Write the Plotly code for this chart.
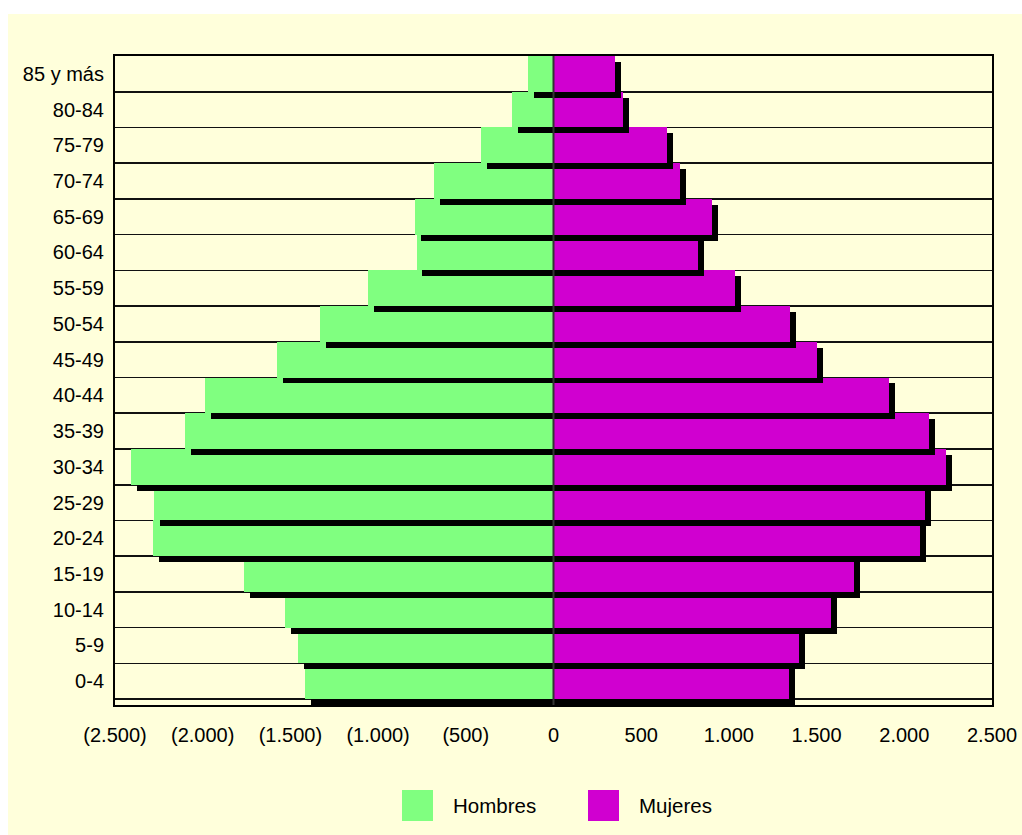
import plotly.graph_objects as go

# ---- data (bottom to top) ----
age_groups = ["0-4", "5-9", "10-14", "15-19", "20-24", "25-29", "30-34", "35-39",
              "40-44", "45-49", "50-54", "55-59", "60-64", "65-69", "70-74",
              "75-79", "80-84", "85 y más"]
hombres = [1415, 1455, 1529, 1763, 2282, 2276, 2407, 2099, 1985, 1574,
           1329, 1055, 781, 787, 679, 416, 234, 143]
mujeres = [1341, 1398, 1580, 1711, 2088, 2116, 2236, 2139, 1911, 1500,
           1346, 1033, 822, 901, 724, 645, 399, 348]
x_tickvals = [-2500, -2000, -1500, -1000, -500, 0, 500, 1000, 1500, 2000, 2500]
x_ticktext = ["(2.500)", "(2.000)", "(1.500)", "(1.000)", "(500)", "0",
              "500", "1.000", "1.500", "2.000", "2.500"]

# ---- style ----
GREEN = "#80FF80"
MAGENTA = "#D000D0"
BG = "#FFFFDB"
FONT = "Liberation Sans, Arial, sans-serif"
SH_DX = 34      # shadow horizontal offset (data units)
SH_DY = 0.166   # shadow vertical offset (category units)

fig = go.Figure()

fig.add_trace(go.Bar(
    y=age_groups, x=[-v for v in hombres], orientation="h", width=1,
    marker=dict(color=GREEN, line=dict(width=0)), name="Hombres",
    showlegend=False, hoverinfo="skip"))
fig.add_trace(go.Bar(
    y=age_groups, x=mujeres, orientation="h", width=1,
    marker=dict(color=MAGENTA, line=dict(width=0)), name="Mujeres",
    showlegend=False, hoverinfo="skip"))

# shadow: strip below each pair of bars
fig.add_trace(go.Bar(
    y=age_groups, x=[h + m for h, m in zip(hombres, mujeres)],
    base=[-h + SH_DX for h in hombres], orientation="h",
    width=SH_DY, offset=-0.5 - SH_DY, cliponaxis=False,
    marker=dict(color="black", line=dict(width=0)),
    showlegend=False, hoverinfo="skip"))
# shadow: strip right of each female bar
fig.add_trace(go.Bar(
    y=age_groups, x=[SH_DX] * len(mujeres), base=mujeres, orientation="h",
    width=1 - SH_DY, offset=-0.5, cliponaxis=False,
    marker=dict(color="black", line=dict(width=0)),
    showlegend=False, hoverinfo="skip"))

W, H = 1022, 835
L, R, T, B = 115, 30, 56, 130
pw, ph = W - L - R, H - T - B

def px(x_page):
    return (x_page - L) / pw

def py(y_page):
    return (H - B - y_page) / ph

shapes = [
    # yellow chart area background
    dict(type="rect", xref="paper", yref="paper", layer="below",
         x0=px(8), x1=px(1030), y0=py(845), y1=py(14),
         fillcolor=BG, line=dict(width=0)),
    # zero line
    dict(type="line", xref="x", yref="paper", x0=0, x1=0, y0=0, y1=1,
         line=dict(color="#333333", width=2), layer="above"),
    # legend squares
    dict(type="rect", xref="paper", yref="paper", x0=px(402), x1=px(433),
         y0=py(821), y1=py(790), fillcolor=GREEN, line=dict(width=0)),
    dict(type="rect", xref="paper", yref="paper", x0=px(588), x1=px(619),
         y0=py(821), y1=py(790), fillcolor=MAGENTA, line=dict(width=0)),
]
annotations = [
    dict(text="Hombres", xref="paper", yref="paper", x=px(451), y=py(805),
         xanchor="left", yanchor="middle", showarrow=False,
         font=dict(family=FONT, size=20.5, color="black")),
    dict(text="Mujeres", xref="paper", yref="paper", x=px(637), y=py(805),
         xanchor="left", yanchor="middle", showarrow=False,
         font=dict(family=FONT, size=20.5, color="black")),
]

fig.update_layout(
    width=W, height=H,
    margin=dict(l=L, r=R, t=T, b=B, pad=0),
    paper_bgcolor="white", plot_bgcolor=BG,
    barmode="overlay", bargap=0,
    showlegend=False,
    font=dict(family=FONT, size=20, color="black"),
    shapes=shapes, annotations=annotations,
    xaxis=dict(range=[-2500, 2500], tickvals=x_tickvals, ticktext=x_ticktext,
               showgrid=False, zeroline=False, ticks="",
               showline=True, linecolor="black", linewidth=2, mirror=True,
               ticklabelstandoff=11, tickfont=dict(size=20), automargin=False),
    yaxis=dict(type="category", categoryorder="array", categoryarray=age_groups,
               tickson="boundaries", showgrid=True, gridcolor="#111111",
               gridwidth=1.6, ticks="", showline=True, linecolor="black",
               linewidth=2, mirror=True, ticklabelstandoff=5,
               tickfont=dict(size=20), automargin=False),
)

fig.write_html(
    "out.html",
    config={"displayModeBar": False, "staticPlot": True},
    post_script="document.body.style.margin='0';document.body.style.overflow='hidden';",
)
